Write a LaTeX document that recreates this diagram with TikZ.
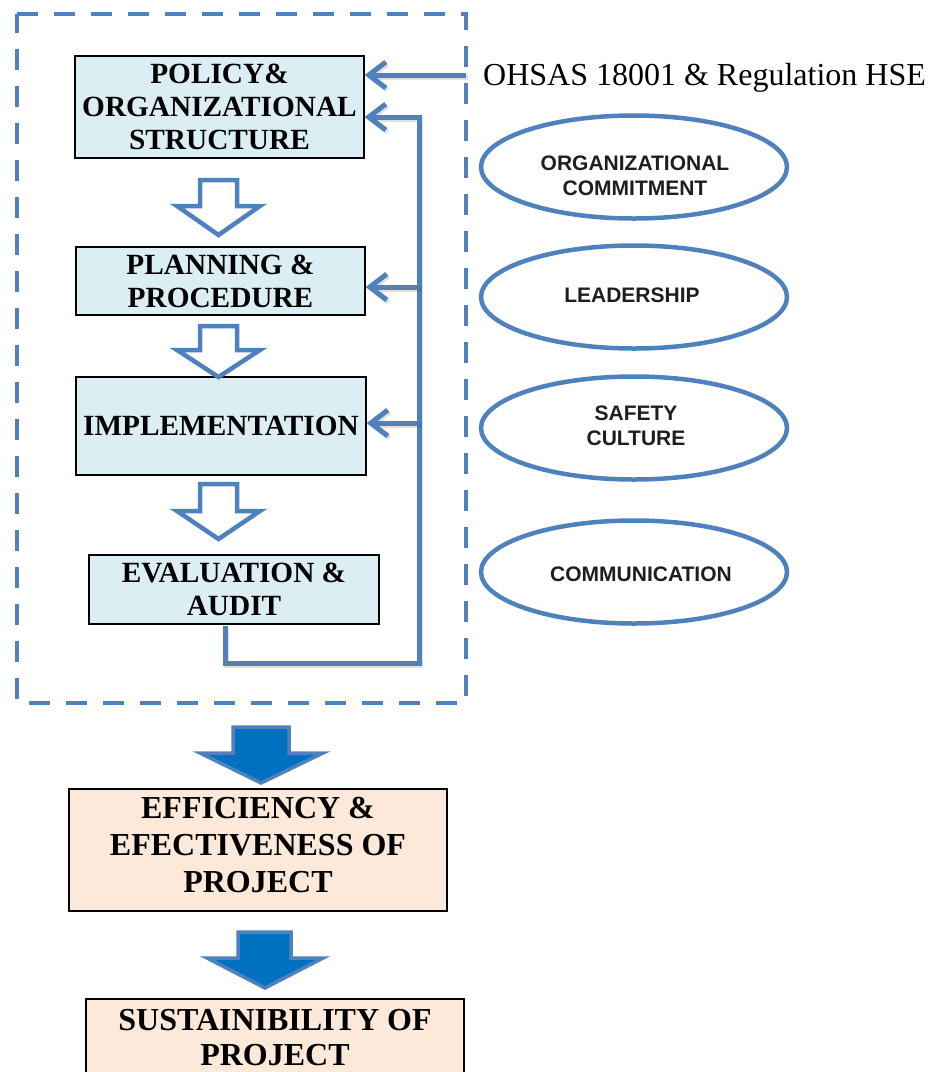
\documentclass[tikz,border=0pt]{standalone}
\usepackage{fontspec}
\setmainfont{Liberation Serif}
\setsansfont{Liberation Sans}
\usetikzlibrary{arrows.meta,shapes.geometric}
\definecolor{lineblue}{HTML}{4F81BD}
\definecolor{boxblue}{HTML}{DBEEF4}
\definecolor{boxpeach}{HTML}{FDE9D9}
\definecolor{darkblue}{HTML}{0070C0}
\definecolor{ovaltext}{HTML}{1E1E1E}
\tikzset{
  stagebox/.style={draw=black, line width=1.4pt, fill=boxblue, inner sep=0pt, align=center,
    font=\bfseries\fontsize{29.3}{33}\selectfont},
  resultbox/.style={draw=black, line width=1.4pt, fill=boxpeach, inner sep=0pt},
  resulttext/.style={inner sep=0pt, align=center, font=\bfseries\fontsize{32}{37}\selectfont},
  oval/.style={ellipse, draw=lineblue, line width=4.5pt, inner sep=0pt,
    minimum width=306pt, minimum height=103pt},
  ovaltxt/.style={inner sep=0pt, align=center, text=ovaltext,
    font=\sffamily\bfseries\fontsize{21}{25}\selectfont},
  conn/.style={draw=lineblue, line width=5pt,
    preaction={draw=black, opacity=0.12, line width=5pt, transform canvas={shift={(1.5pt,-2pt)}}},
    -{Straight Barb[length=17pt,width=26pt,line width=5pt]}},
  hollowarrow/.style={draw=lineblue, line width=4.5pt, fill=white, line join=miter},
  solidarrow/.style={draw=lineblue, line width=3.5pt, fill=darkblue, line join=miter},
}
\begin{document}
\begin{tikzpicture}[x=1pt,y=-1pt]
\useasboundingbox (0,0) rectangle (928,1072);
\clip (0,0) rectangle (928,1072);

% dashed frame
\draw[lineblue, line width=4.5pt, dash pattern=on 21pt off 16pt] (17,14) -- (466,14) -- (466,703) -- (17,703) -- cycle;

% stage boxes
\node[stagebox, minimum width=289pt, minimum height=102pt] (policy) at (219.5,107)
  {POLICY\&\\ORGANIZATIONAL\\STRUCTURE};
\node[stagebox, minimum width=289pt, minimum height=68pt] (planning) at (220.5,281)
  {PLANNING \&\\PROCEDURE};
\node[stagebox, minimum width=290pt, minimum height=98pt] (impl) at (221,426)
  {\raisebox{-4pt}{IMPLEMENTATION}};
\node[stagebox, minimum width=290pt, minimum height=69pt] (eval) at (234,589.5)
  {EVALUATION \&\\AUDIT};

% hollow arrows between stages
\draw[hollowarrow] (200,180) -- (237,180) -- (237,206) -- (260,206) -- (218.5,235) -- (177,206) -- (200,206) -- cycle;
\draw[hollowarrow] (200,326) -- (237,326) -- (237,350) -- (260,350) -- (218.5,377) -- (177,350) -- (200,350) -- cycle;
\draw[hollowarrow] (200,484) -- (237,484) -- (237,511) -- (260,511) -- (218.5,539) -- (177,511) -- (200,511) -- cycle;

% external input
\node[anchor=west, inner sep=0pt, font=\fontsize{32}{36}\selectfont] (ohsas) at (483,77.5)
  {OHSAS 18001 \& Regulation HSE};
\coordinate (ohsasin) at (466,75);
\draw[conn] (ohsasin) -- (policy.east |- ohsasin);

% feedback loop
\coordinate (fbstart) at (225,626);
\coordinate (fbcorner) at (419,663);
\coordinate (fbtop) at (419,117);
\coordinate (tapP) at (419,287);
\coordinate (tapI) at (419,423);
\draw[conn] (fbstart) |- (fbcorner) -- (fbtop) -- (policy.east |- fbtop);
\draw[conn] (tapP) -- (planning.east |- tapP);
\draw[conn] (tapI) -- (impl.east |- tapI);

% ovals
\node[oval] (commit) at (634,167) {};
\node[ovaltxt] (committxt) at (635,175.5) {ORGANIZATIONAL\\COMMITMENT};
\node[oval] (lead) at (634,297) {};
\node[ovaltxt] (leadtxt) at (632,295) {LEADERSHIP};
\node[oval] (culture) at (634,428) {};
\node[ovaltxt] (culturetxt) at (636,425.5) {SAFETY\\CULTURE};
\node[oval] (comm) at (634,572) {};
\node[ovaltxt] (commtxt) at (641,574) {COMMUNICATION};

% solid arrows and results
\draw[solidarrow] (233,727) -- (289,727) -- (289,753) -- (323,753) -- (261,783) -- (200,753) -- (233,753) -- cycle;
\node[resultbox, minimum width=378pt, minimum height=122pt] (eff) at (258,850) {};
\node[resulttext] (efftxt) at (258,845.5) {EFFICIENCY \&\\EFECTIVENESS OF\\PROJECT};
\draw[solidarrow] (238,932) -- (291,932) -- (291,958) -- (323,958) -- (265,988) -- (207,958) -- (238,958) -- cycle;
\node[resultbox, minimum width=378pt, minimum height=130pt] (sust) at (275,1064) {};
\node[resulttext, font=\bfseries\fontsize{32}{35}\selectfont] (susttxt) at (275,1037.5) {SUSTAINIBILITY OF\\PROJECT};
\end{tikzpicture}
\end{document}
